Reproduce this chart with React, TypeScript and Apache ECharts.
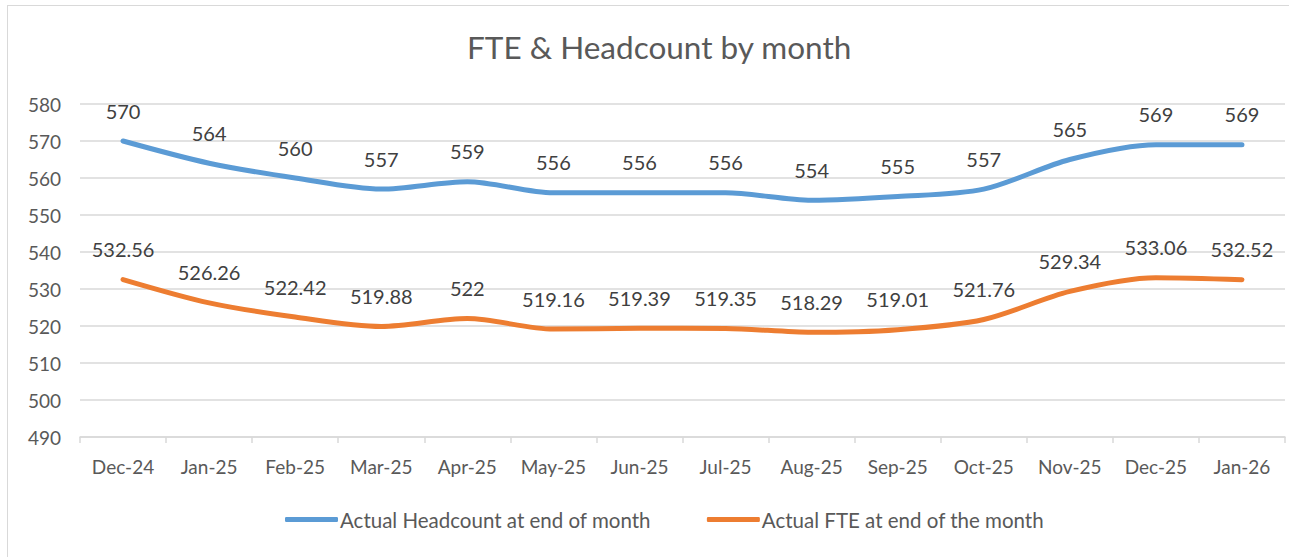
import React, { useEffect, useRef } from "react";
import * as echarts from "echarts";

const months = ["Dec-24", "Jan-25", "Feb-25", "Mar-25", "Apr-25", "May-25", "Jun-25", "Jul-25", "Aug-25", "Sep-25", "Oct-25", "Nov-25", "Dec-25", "Jan-26"];
const headcount = [570, 564, 560, 557, 559, 556, 556, 556, 554, 555, 557, 565, 569, 569];
const fte = [532.56, 526.26, 522.42, 519.88, 522, 519.16, 519.39, 519.35, 518.29, 519.01, 521.76, 529.34, 533.06, 532.52];
const seriesNames = ["Actual Headcount at end of month", "Actual FTE at end of the month"];
const title = "FTE & Headcount by month";

const FONT = "Lato, 'Open Sans', sans-serif";

export default function App() {
  const ref = useRef<HTMLDivElement>(null);
  useEffect(() => {
    document.body.style.margin = "0";
    const chart = echarts.init(ref.current!, null, { renderer: "svg" });
    const mkSeries = (name: string, data: number[], color: string) => ({
      name,
      type: "line",
      data,
      smooth: 0.3,
      symbol: "circle",
      symbolSize: 1,
      itemStyle: { color },
      lineStyle: { color, width: 5, cap: "round" },
      label: {
        show: true,
        position: "top",
        distance: 20,
        color: "#404040",
        fontSize: 20,
        fontFamily: FONT,
      },
      emphasis: { disabled: true },
    });
    chart.setOption({
      animation: false,
      textStyle: { fontFamily: FONT },
      title: {
        text: title,
        left: 462,
        top: 26,
        textStyle: { color: "#595959", fontSize: 31.5, fontWeight: "normal", fontFamily: FONT },
      },
      graphic: [
        { type: "line", shape: { x1: 7, y1: 5.5, x2: 1289, y2: 5.5 }, style: { stroke: "#d9d9d9", lineWidth: 1 } },
        { type: "line", shape: { x1: 7.5, y1: 5, x2: 7.5, y2: 557 }, style: { stroke: "#d9d9d9", lineWidth: 1 } },
      ],
      legend: {
        bottom: 22,
        left: 280,
        itemWidth: 53,
        itemHeight: 5,
        itemGap: 56,
        icon: "roundRect",
        textStyle: { color: "#595959", fontSize: 20.5, fontFamily: FONT, padding: [0, 0, 0, -3] },
        data: seriesNames,
      },
      grid: { left: 80, right: 4, top: 104, bottom: 120 },
      xAxis: {
        type: "category",
        data: months,
        boundaryGap: true,
        axisLine: { lineStyle: { color: "#d9d9d9", width: 1.5 } },
        axisTick: { show: true, length: 6, lineStyle: { color: "#d9d9d9", width: 1.5 } },
        axisLabel: { color: "#595959", fontSize: 19, margin: 20, fontFamily: FONT },
      },
      yAxis: {
        type: "value",
        min: 490,
        max: 580,
        interval: 10,
        axisLine: { show: false },
        axisTick: { show: false },
        splitLine: { lineStyle: { color: "#d9d9d9", width: 1.5 } },
        axisLabel: { color: "#595959", fontSize: 19, margin: 19, fontFamily: FONT },
      },
      series: [
        mkSeries(seriesNames[0], headcount, "#5B9BD5"),
        mkSeries(seriesNames[1], fte, "#ED7D31"),
      ],
    });
    return () => chart.dispose();
  }, []);
  return <div ref={ref} style={{ width: 1289, height: 557 }} />;
}
